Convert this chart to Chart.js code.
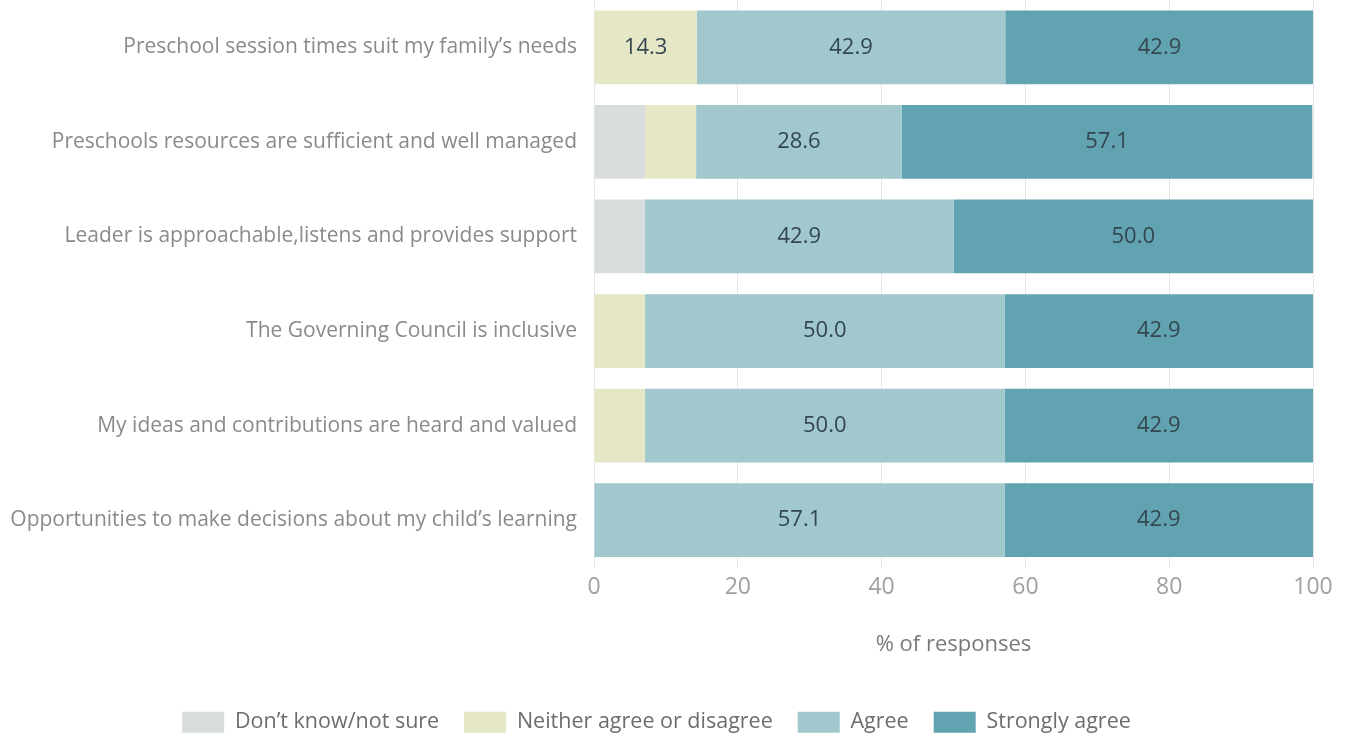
<!DOCTYPE html>
<html>
<head>
<meta charset="utf-8">
<script src="https://cdn.jsdelivr.net/npm/chart.js@4"></script>
<style>
  html, body { margin: 0; padding: 0; background: #fff; }
  #wrap { width: 1351px; height: 735px; }
</style>
</head>
<body>
<div id="wrap"><canvas id="survey"></canvas></div>
<script>
// survey statements and % of responses per answer
var statements = [
  "Preschool session times suit my family\u2019s needs",
  "Preschools resources are sufficient and well managed",
  "Leader is approachable,listens and provides support",
  "The Governing Council is inclusive",
  "My ideas and contributions are heard and valued",
  "Opportunities to make decisions about my child\u2019s learning"
];
var dontKnow = [0, 7.1, 7.1, 0, 0, 0];
var neither = [14.3, 7.1, 0, 7.1, 7.1, 0];
var agree = [42.9, 28.6, 42.9, 50.0, 50.0, 57.1];
var stronglyAgree = [42.9, 57.1, 50.0, 42.9, 42.9, 42.9];
var xTicks = [0, 20, 40, 60, 80, 100];

var fontFamily = "'Open Sans', sans-serif";

// writes the value inside each segment wide enough to hold it
var segmentLabels = {
  id: "segmentLabels",
  afterDatasetsDraw: function (chart) {
    var ctx = chart.ctx;
    ctx.save();
    ctx.font = "22px " + fontFamily;
    ctx.fillStyle = "#34464f";
    ctx.textAlign = "center";
    ctx.textBaseline = "middle";
    chart.data.datasets.forEach(function (ds, i) {
      chart.getDatasetMeta(i).data.forEach(function (bar, j) {
        var v = ds.data[j];
        if (v < 10) return;
        var x = (bar.x + bar.base) / 2;
        ctx.fillText(v.toFixed(1), x, bar.y);
      });
    });
    ctx.restore();
  }
};

var bars = document.getElementById("survey").getContext("2d");
var graph = new Chart(bars, {
  type: "bar",
  data: {
    labels: statements,
    datasets: [
      { label: "Don\u2019t know/not sure", data: dontKnow, backgroundColor: "#d9dddd" },
      { label: "Neither agree or disagree", data: neither, backgroundColor: "#e5e7c7" },
      { label: "Agree", data: agree, backgroundColor: "#a0c8cd" },
      { label: "Strongly agree", data: stronglyAgree, backgroundColor: "#61a3b1" }
    ]
  },
  options: {
    indexAxis: "y",
    responsive: true,
    maintainAspectRatio: false,
    animation: false,
    layout: {
      padding: { left: 0, right: 38, top: -2, bottom: -8 }
    },
    datasets: {
      bar: { categoryPercentage: 1, barPercentage: 0.78, borderWidth: 0 }
    },
    plugins: {
      tooltip: { enabled: false },
      legend: {
        position: "bottom",
        labels: {
          boxWidth: 42,
          boxHeight: 21,
          padding: 25,
          color: "#6d6d6d",
          font: { size: 21.5, family: fontFamily }
        }
      }
    },
    scales: {
      x: {
        stacked: true,
        min: 0,
        max: 100,
        afterBuildTicks: function (axis) {
          axis.ticks = xTicks.map(function (v) { return { value: v }; });
        },
        afterFit: function (axis) {
          axis.paddingRight = 0;
          axis.paddingLeft = 0;
        },
        grid: { color: "#e6e6e6", drawTicks: false },
        border: { display: false },
        ticks: {
          padding: 6,
          color: "#a0a0a0",
          font: { size: 23, family: fontFamily }
        },
        title: {
          display: true,
          text: "% of responses",
          color: "#7a7a7a",
          font: { size: 22, family: fontFamily },
          padding: { top: 24, bottom: 29 }
        }
      },
      y: {
        stacked: true,
        afterFit: function (axis) {
          axis.width = 594;
          axis.paddingTop = 0;
          axis.paddingBottom = 0;
        },
        grid: { display: false },
        border: { display: false },
        ticks: {
          padding: 9,
          color: "#8a8a8a",
          font: { size: 21, family: fontFamily }
        }
      }
    }
  },
  plugins: [segmentLabels]
});
</script>
</body>
</html>
